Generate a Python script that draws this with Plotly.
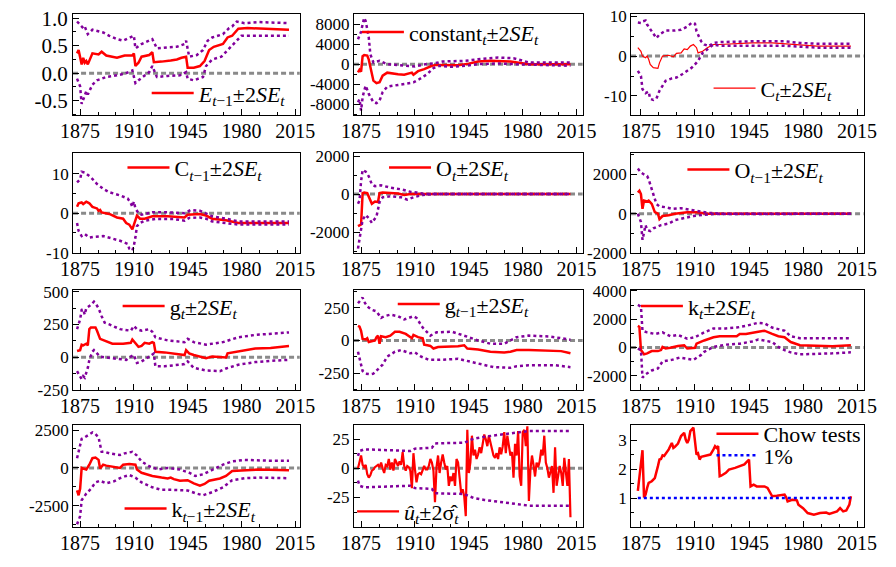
import plotly.graph_objects as go

# ---------------- data ----------------
X_TICKS = [1875, 1910, 1945, 1980, 2015]
X_TICKTEXT = ["1875", "1910", "1945", "1980", "2015"]

# Panel 1: E_{t-1}
E_yr = [1873, 1874, 1876, 1877, 1878, 1879, 1880, 1883, 1887, 1889, 1892, 1897, 1899, 1904, 1909, 1910, 1911, 1913, 1915, 1920,
        1922, 1923, 1924, 1928, 1934, 1938, 1941, 1944, 1945, 1949, 1953, 1956, 1959, 1962, 1968, 1971, 1974, 1977, 1978, 1984,
        1999, 2011]
E_est = [0.36, 0.42, 0.16, 0.28, 0.19, 0.22, 0.16, 0.36, 0.34, 0.39, 0.32, 0.30, 0.28, 0.32, 0.32, 0.36, 0.13, 0.19, 0.30, 0.33,
         0.38, 0.20, 0.20, 0.21, 0.23, 0.25, 0.28, 0.30, 0.10, 0.10, 0.13, 0.22, 0.42, 0.48, 0.53, 0.65, 0.68, 0.79, 0.81, 0.82,
         0.81, 0.79]
E_up_yr = [1873, 1875, 1877, 1878, 1880, 1883, 1887, 1890, 1894, 1899, 1903, 1907, 1910, 1911, 1915, 1922, 1925, 1932, 1938, 1943,
           1944, 1946, 1951, 1955, 1958, 1961, 1968, 1972, 1974, 1977, 1982, 1991, 2011]
E_up = [0.94, 0.88, 0.82, 0.85, 0.71, 0.79, 0.76, 0.74, 0.68, 0.62, 0.59, 0.65, 0.68, 0.45, 0.53, 0.62, 0.45, 0.47, 0.48, 0.53,
        0.59, 0.30, 0.33, 0.42, 0.59, 0.65, 0.71, 0.82, 0.85, 0.94, 0.91, 0.93, 0.91]
E_lo_yr = [1873, 1875, 1876, 1879, 1880, 1883, 1886, 1892, 1899, 1904, 1909, 1911, 1913, 1920, 1922, 1925, 1932, 1940, 1944, 1945,
           1949, 1955, 1957, 1961, 1967, 1972, 1976, 1980, 2011]
E_lo = [-0.10, -0.24, -0.56, -0.33, -0.39, -0.21, -0.13, -0.07, -0.04, -0.01, 0.05, -0.18, -0.13, 0.02, 0.13, -0.07, -0.05, -0.04, 0.02, -0.10,
        -0.13, -0.07, 0.13, 0.25, 0.30, 0.45, 0.56, 0.68, 0.68]

# Panel 2: constant
K_yr = [1873, 1874, 1875, 1876, 1877, 1879, 1880, 1883, 1885, 1887, 1889, 1892, 1899, 1903, 1908, 1909, 1912, 1916, 1921, 1924,
        1938, 1945, 1951, 1959, 1972, 1978, 1984, 2011]
K_est = [-1650, -1100, -1500, 1600, 1800, 1700, 900, -3300, -3800, -3600, -2300, -1700, -2000, -2100, -1700, -2100, -1400, -1000, -330, -150,
         -200, 100, 530, 660, 530, 200, 0, 0]
K_up_yr = [1873, 1875, 1876, 1877, 1878, 1880, 1881, 1883, 1887, 1892, 1899, 1907, 1910, 1917, 1922, 1928, 1943, 1951, 1964, 1974,
           1980, 1984, 2011]
K_up = [4960, 6500, 7930, 9250, 8600, 5300, 1980, 330, 660, 0, -200, -330, -460, 0, 130, 530, 660, 990, 1320, 1190,
        660, 330, 330]
K_lo_yr = [1873, 1874, 1875, 1876, 1877, 1878, 1880, 1883, 1885, 1887, 1889, 1892, 1899, 1903, 1909, 1913, 1918, 1922, 1926, 1934,
           1943, 1951, 1964, 1974, 1984, 2011]
K_lo = [-7600, -7000, -9250, -6600, -5300, -4300, -5950, -7600, -7800, -7270, -5600, -4500, -4160, -3970, -3640, -2975, -1980, -800, -330, -530,
        -330, 0, 130, 0, -130, -330]

# Panel 3: C_t
Ct_yr = [1873, 1875, 1876, 1878, 1879, 1880, 1881, 1883, 1886, 1887, 1889, 1893, 1896, 1898, 1901, 1903, 1905, 1907, 1909, 1911,
         1912, 1915, 1918, 1922, 1926, 1947, 1960, 1976, 1989, 2011]
Ct_est = [2.1, 1.2, 0.0, -0.4, 0.0, -0.8, -2.1, -2.9, -3.1, -1.7, 0.0, 0.2, -0.2, 0.7, 0.8, 1.8, 1.6, 2.5, 2.9, 2.1,
          0.8, 1.2, 2.1, 2.9, 2.9, 3.3, 3.3, 2.9, 2.5, 2.5]
Ct_up_yr = [1873, 1875, 1876, 1878, 1879, 1882, 1885, 1887, 1891, 1897, 1901, 1905, 1908, 1910, 1911, 1914, 1916, 1919, 1922, 1926,
            1947, 1968, 1978, 1989, 2011]
Ct_up = [8.4, 8.3, 8.7, 8.9, 7.9, 6.2, 4.5, 5.4, 6.4, 6.4, 6.6, 7.4, 8.4, 8.1, 6.2, 3.7, 2.9, 2.5, 3.3, 3.5,
         3.7, 3.7, 3.3, 3.1, 3.1]
Ct_lo_yr = [1873, 1875, 1876, 1878, 1880, 1881, 1883, 1885, 1887, 1891, 1895, 1898, 1902, 1905, 1908, 1910, 1912, 1915, 1918, 1922,
            1926, 1947, 1968, 1989, 2011]
Ct_lo = [-3.7, -5.0, -8.3, -9.3, -8.9, -10.7, -11.0, -10.7, -8.7, -6.2, -5.6, -5.4, -4.5, -3.7, -2.9, -2.1, -1.2, 0.8, 1.7, 2.9,
         2.6, 2.6, 2.6, 2.1, 2.1]

# Panel 4: C_{t-1}
Ct1_yr = [1873, 1874, 1876, 1877, 1879, 1881, 1883, 1886, 1887, 1888, 1889, 1892, 1894, 1899, 1903, 1905, 1907, 1909, 1911, 1912,
          1914, 1917, 1922, 1932, 1943, 1945, 1953, 1957, 1961, 1970, 1978, 2011]
Ct1_est = [1.6, 2.5, 2.7, 2.3, 2.9, 2.5, 1.6, 1.2, 0.6, 0.8, 0.2, 0.0, -0.2, -1.1, -1.4, -2.5, -2.9, -4.1, -2.1, -0.6,
           -1.4, -1.4, -0.8, -0.8, -1.1, -0.4, -0.2, -0.6, -1.4, -1.8, -2.5, -2.5]
Ct1_up_yr = [1873, 1875, 1876, 1878, 1882, 1886, 1890, 1894, 1901, 1906, 1908, 1909, 1910, 1911, 1913, 1915, 1922, 1932, 1943, 1947,
             1953, 1957, 1961, 1970, 1978, 2011]
Ct1_up = [7.8, 8.6, 10.5, 10.3, 9.1, 7.4, 6.2, 5.3, 4.5, 3.7, 2.5, 1.6, 2.9, 1.2, 0.0, -0.4, 0.2, 0.2, 0.0, 0.8,
          0.6, 0.0, -0.8, -1.4, -2.1, -2.1]
Ct1_lo_yr = [1873, 1874, 1876, 1878, 1881, 1884, 1890, 1894, 1901, 1906, 1907, 1909, 1910, 1911, 1912, 1914, 1917, 1924, 1936, 1943,
             1946, 1953, 1957, 1961, 1970, 1978, 2011]
Ct1_lo = [-2.5, -4.5, -5.8, -5.3, -6.2, -6.0, -5.8, -6.2, -7.0, -7.8, -9.0, -9.5, -8.2, -6.2, -3.3, -2.5, -1.9, -1.5, -1.5, -1.9,
          -1.2, -1.1, -1.4, -2.1, -2.5, -2.9, -2.9]

# Panel 5: O_t
Ot_yr = [1873, 1874, 1875, 1876, 1877, 1879, 1880, 1882, 1884, 1886, 1887, 1889, 1899, 1903, 1907, 1917, 2011]
Ot_est = [-1690, -1650, -1600, 50, 85, 50, -170, -510, -390, -420, 50, 85, 30, -50, 0, 0, 0]
Ot_up_yr = [1873, 1874, 1875, 1876, 1878, 1880, 1882, 1884, 1888, 1894, 1901, 1907, 1911, 1917, 2011]
Ot_up = [-510, -340, 680, 1270, 1180, 930, 510, 420, 460, 340, 250, 120, 85, 0, 0]
Ot_lo_yr = [1873, 1874, 1876, 1878, 1880, 1882, 1884, 1885, 1887, 1889, 1894, 1901, 1905, 1909, 1915, 1922, 2011]
Ot_lo = [-2870, -2280, -1350, -1100, -1270, -1520, -1300, -1180, -420, -170, -120, -170, -290, -170, -50, 0, 0]

# Panel 6: O_{t-1}
Ot1_yr = [1873, 1874, 1875, 1876, 1877, 1879, 1880, 1882, 1884, 1886, 1887, 1889, 1893, 1897, 1905, 1911, 1918, 2011]
Ot1_est = [1080, 1170, 1000, 250, 670, 620, 670, 500, 80, 0, -280, -120, -80, 0, 80, 80, 0, 0]
Ot1_up_yr = [1873, 1875, 1877, 1879, 1880, 1881, 1883, 1885, 1887, 1891, 1895, 1901, 1907, 1914, 1918, 1926, 2011]
Ot1_up = [2300, 2100, 2000, 1920, 1750, 1500, 1000, 500, 370, 330, 250, 280, 200, 120, 50, 0, 0]
Ot1_lo_yr = [1873, 1875, 1876, 1878, 1879, 1881, 1883, 1886, 1888, 1893, 1897, 1903, 1909, 1916, 1922, 2011]
Ot1_lo = [0, -420, -1330, -580, -830, -880, -750, -670, -580, -500, -330, -220, -120, -50, -20, 0]

# Panel 7: g_t
gt_yr = [1873, 1875, 1876, 1877, 1879, 1880, 1881, 1882, 1885, 1886, 1888, 1891, 1894, 1896, 1903, 1908, 1909, 1911, 1913, 1915,
         1917, 1920, 1922, 1923, 1924, 1930, 1936, 1943, 1944, 1946, 1949, 1957, 1961, 1970, 1971, 1978, 1982, 1989, 1999, 2011]
gt_est = [47, 54, 96, 91, 103, 91, 214, 226, 226, 202, 140, 128, 115, 103, 103, 110, 135, 103, 79, 86,
          110, 103, 115, 110, 42, 37, 30, 17, 54, 30, 17, -7, 5, -2, 30, 42, 54, 66, 71, 86]
gt_up_yr = [1873, 1875, 1876, 1877, 1878, 1879, 1882, 1884, 1885, 1887, 1889, 1891, 1894, 1901, 1908, 1910, 1912, 1915, 1920, 1922,
            1924, 1932, 1943, 1945, 1949, 1957, 1968, 1978, 1989, 1999, 2011]
gt_up = [214, 288, 361, 366, 324, 374, 398, 423, 410, 374, 312, 263, 250, 214, 202, 238, 214, 202, 214, 194,
         152, 128, 115, 140, 115, 96, 115, 152, 170, 177, 189]
gt_lo_yr = [1873, 1875, 1876, 1877, 1878, 1880, 1881, 1883, 1884, 1886, 1888, 1892, 1899, 1905, 1908, 1910, 1912, 1915, 1920, 1923,
            1924, 1930, 1943, 1945, 1949, 1957, 1966, 1970, 1978, 1989, 1999, 2011]
gt_lo = [-106, -143, -167, -143, -155, -81, -20, 42, 54, 29, 5, -2, -12, -20, 5, 17, -44, -32, 5, 29,
         -69, -69, -52, -32, -81, -101, -106, -86, -57, -37, -27, -20]

# Panel 8: g_{t-1}
gt1_yr = [1873, 1874, 1875, 1876, 1878, 1879, 1880, 1882, 1884, 1885, 1886, 1887, 1888, 1891, 1894, 1897, 1900, 1904, 1908, 1909,
          1912, 1915, 1916, 1918, 1920, 1922, 1925, 1938, 1942, 1944, 1951, 1959, 1968, 1972, 1976, 1984, 1997, 2005, 2011]
gt1_est = [111, 105, 74, 12, 7, 17, -12, -7, 0, 25, 37, -25, 32, 25, 37, 67, 67, 50, 17, 42,
           25, 17, -32, -37, -42, -62, -50, -45, -37, -62, -69, -87, -92, -87, -74, -74, -77, -82, -99]
gt1_up_yr = [1873, 1874, 1876, 1877, 1879, 1882, 1885, 1888, 1890, 1894, 1899, 1903, 1909, 1911, 1915, 1920, 1924, 1934, 1943, 1945,
             1951, 1959, 1968, 1976, 1984, 1997, 2005, 2011]
gt1_up = [285, 297, 329, 297, 260, 235, 223, 173, 186, 198, 186, 161, 186, 173, 99, 37, 62, 67, 37, 25,
          0, -25, -25, 25, 37, 30, 17, 5]
gt1_lo_yr = [1873, 1874, 1876, 1878, 1881, 1883, 1886, 1889, 1892, 1897, 1901, 1907, 1910, 1914, 1919, 1926, 1938, 1945, 1953, 1961,
             1972, 1976, 1984, 2001, 2011]
gt1_lo = [-87, -136, -235, -255, -260, -255, -223, -186, -124, -87, -74, -99, -92, -124, -149, -149, -141, -161, -181, -205,
          -210, -198, -190, -190, -205]

# Panel 9: k_t
kt_yr = [1873, 1874, 1875, 1877, 1879, 1882, 1886, 1888, 1889, 1891, 1894, 1899, 1903, 1905, 1910, 1911, 1916, 1922, 1926, 1937,
         1939, 1943, 1951, 1955, 1960, 1964, 1968, 1972, 1978, 1989, 1999, 2011]
kt_est = [1530, 1460, -180, -480, -410, -250, -250, -180, 46, -70, -20, 114, 160, -70, -20, 274, 500, 730, 800, 800,
          960, 960, 1120, 1190, 960, 800, 730, 390, 160, 114, 91, 160]
kt_up_yr = [1873, 1875, 1876, 1879, 1884, 1889, 1894, 1899, 1905, 1910, 1916, 1922, 1930, 1937, 1943, 1951, 1955, 1960, 1968, 1972,
            1978, 2011]
kt_up = [3010, 2900, 1190, 1070, 960, 1070, 800, 890, 620, 730, 1070, 1350, 1350, 1410, 1530, 1750, 1710, 1410, 1190, 800,
         660, 660]
kt_lo_yr = [1873, 1875, 1876, 1878, 1882, 1886, 1889, 1895, 1900, 1905, 1909, 1914, 1916, 1922, 1930, 1939, 1947, 1951, 1955, 1960,
            1964, 1968, 1972, 1978, 1999, 2011]
kt_lo = [-70, -180, -2120, -1890, -1620, -1480, -980, -870, -710, -800, -870, -520, -300, 46, 205, 274, 430, 570, 500, 390,
         46, -180, -340, -480, -410, -340]

# Panel 10: k_{t-1}
kt1_yr = [1873, 1874, 1875, 1876, 1877, 1879, 1881, 1883, 1885, 1887, 1888, 1890, 1892, 1897, 1901, 1903, 1907, 1911, 1912, 1915,
          1922, 1928, 1932, 1934, 1936, 1940, 1945, 1949, 1953, 1956, 1959, 1966, 1970, 1974, 1982, 1991, 2011]
kt1_est = [-1490, -1810, -1380, 0, -43, -106, 213, 640, 680, 530, -43, 213, 150, 43, 0, 213, 255, 213, -106, -320,
           -530, -640, -700, -640, -745, -850, -810, -1020, -1170, -1060, -850, -700, -530, -210, -170, -106, -150]
kt1_up_yr = [1873, 1875, 1876, 1878, 1881, 1883, 1885, 1887, 1889, 1891, 1894, 1901, 1904, 1909, 1912, 1915, 1920, 1926, 1932, 1940,
             1946, 1950, 1955, 1961, 1968, 1974, 1982, 1999, 2011]
kt1_up = [640, 1490, 1920, 2020, 2230, 2340, 2230, 2020, 1060, 1060, 960, 850, 960, 1060, 810, 425, 106, -106, 0, -106,
          -320, -530, -425, -106, 213, 425, 530, 470, 470]
kt1_lo_yr = [1873, 1875, 1876, 1879, 1882, 1885, 1888, 1890, 1892, 1897, 1901, 1905, 1907, 1911, 1915, 1922, 1928, 1936, 1945, 1951,
             1955, 1961, 1968, 1974, 1982, 1991, 2011]
kt1_lo = [-3720, -3190, -2130, -1700, -1380, -960, -850, -960, -1020, -890, -680, -530, -470, -640, -960, -1280, -1450, -1450, -1490, -1700,
          -1810, -1600, -1280, -810, -680, -640, -680]

# Panel 11: residuals u_t and +-2 sigma
res_yr = list(range(1873, 2012))
res = [0, 6, 11, 3, 1, 3, -5, -8, -6, -2,          # 1873-1882
       -1, 1, 2, 3, 1, 5, 0, -4, 3, 2,             # 1883-1892
       8, -1, 5, -2, 8, 5, 2, 6, 3, 14,            # 1893-1902
       2, -2, 2, 1, -2, -17, 13, -1, -12, -5,      # 1903-1912
       -4, -5, -2, 2, -1, -1, 2, 8, 5, -2,         # 1913-1922
       -29, 1, 11, -4, 5, 12, 5, -1, 2, -15,       # 1923-1932
       -7, -11, -4, -15, 8, 5, -8, -21, -18, -24,  # 1933-1942
       -41, 33, -4, 5, 28, 11, 16, 8, 12, 18,      # 1943-1952
       13, 23, 29, 25, 19, 28, 22, 16, 11, 9,      # 1953-1962
       13, 8, 18, 12, 19, 31, 13, 28, 19, 11,      # 1963-1972
       14, -8, 21, 11, 32, -7, -15, 31, 33, 19,    # 1973-1982
       36, -28, -1, 11, 3, -7, 5, 1, 6, 16,        # 1983-1992
       11, 28, 5, 0, -8, -4, 2, -21, 18, -15,      # 1993-2002
       -7, 2, -4, -15, 9, -4, -15, 8, -42]         # 2003-2011
sig_yr = [1873, 1874, 1877, 1892, 1907, 1910, 1921, 1923, 1942, 1946, 1948, 1955, 1967, 1984, 2011]
sig_up = [10.6, 14.9, 16.3, 15.4, 14.9, 16.9, 17.7, 21.4, 22.0, 24.3, 25.4, 27.1, 29.1, 32.0, 32.0]
sig_lo = [-10.6, -14.9, -16.3, -15.4, -14.9, -16.9, -17.7, -21.4, -22.0, -24.3, -25.4, -27.1, -29.1, -32.0, -32.0]

# Panel 12: Chow tests and 1% critical value
chow_yr = [1873, 1874, 1875, 1876, 1877, 1878, 1879, 1880, 1882, 1884, 1886, 1887, 1888, 1889, 1890, 1893, 1895, 1896, 1897, 1899,
           1901, 1903, 1904, 1905, 1906, 1907, 1909, 1910, 1911, 1912, 1913, 1914, 1917, 1920, 1922, 1923, 1924, 1925, 1926, 1927,
           1930, 1932, 1936, 1939, 1942, 1944, 1945, 1946, 1948, 1950, 1955, 1957, 1960, 1963, 1968, 1969, 1970, 1973, 1976, 1977,
           1980, 1983, 1987, 1991, 1995, 1997, 2002, 2004, 2006, 2008, 2010, 2011]
chow = [1.25, 1.7, 2.3, 2.65, 1.02, 1.12, 1.35, 1.52, 1.58, 1.69, 2.1, 2.33, 2.35, 2.47, 2.45, 2.68, 2.9, 2.73, 2.77, 2.88,
        3.14, 3.25, 3.02, 2.9, 3.02, 3.31, 3.43, 2.97, 2.5, 2.54, 2.33, 2.42, 2.45, 2.5, 2.68, 2.79, 2.73, 2.79, 1.75, 1.77,
        1.87, 1.98, 2.04, 2.1, 2.16, 2.27, 2.33, 1.4, 1.46, 1.4, 1.4, 1.35, 1.06, 1.08, 1.12, 1.03, 0.88, 0.94, 0.92, 0.77,
        0.65, 0.48, 0.42, 0.48, 0.5, 0.45, 0.54, 0.65, 0.54, 0.57, 0.77, 1.06]
crit_yr = [1873, 2011]
crit = [1.0, 1.0]

# ---------------- styling / layout ----------------
FONT = "Liberation Serif"
RED = "#ff0000"
PURPLE = "#82009c"
BLUE = "#0000ff"
GRAY = "#8a8a8a"
W, H = 896, 567
COLS = [(62, 296), (352, 588), (638, 878)]
ROWS = [(6, 111), (150, 253), (291, 395), (431, 536)]
XRANGES = [(1870.4, 2018.0), (1870.4, 2018.9), (1868.6, 2019.2)]


def px(x):
    return x / W


def py(y):
    return min(1.0, max(0.0, 1 - y / H))


SE = "±2<i>SE</i><sub><i>t</i></sub>"
panels = [
    dict(est=(E_yr, E_est), bands=[(E_up_yr, E_up), (E_lo_yr, E_lo)], yrange=(-0.77, 1.08),
         ticks=[-0.5, 0.0, 0.5, 1.0], dec=1, minor=0.25, tfs=21,
         label="<i>E</i><sub><i>t</i>−1</sub>" + SE, leg=(138, 88), lw=2.5),
    dict(est=(K_yr, K_est), bands=[(K_up_yr, K_up), (K_lo_yr, K_lo)], yrange=(-10250, 10050),
         ticks=[-8000, -4000, 0, 4000, 8000], dec=0, minor=2000, tfs=17,
         label="constant<sub><i>t</i></sub>" + SE, leg=(355, 25), lw=2.5),
    dict(est=(Ct_yr, Ct_est), bands=[(Ct_up_yr, Ct_up), (Ct_lo_yr, Ct_lo)], yrange=(-14.9, 10.6),
         ticks=[-10, 0, 10], dec=0, minor=5, tfs=17,
         label="C<sub><i>t</i></sub>" + SE, leg=(718, 83), lw=1.2),
    dict(est=(Ct1_yr, Ct1_est), bands=[(Ct1_up_yr, Ct1_up), (Ct1_lo_yr, Ct1_lo)], yrange=(-10.1, 15.2),
         ticks=[-10, 0, 10], dec=0, minor=5, tfs=17,
         label="C<sub><i>t</i>−1</sub>" + SE, leg=(113, 165), lw=2.5),
    dict(est=(Ot_yr, Ot_est), bands=[(Ot_up_yr, Ot_up), (Ot_lo_yr, Ot_lo)], yrange=(-3100, 2150),
         ticks=[-2000, 0, 2000], dec=0, minor=1000, tfs=17,
         label="O<sub><i>t</i></sub>" + SE, leg=(383, 165), lw=2.5),
    dict(est=(Ot1_yr, Ot1_est), bands=[(Ot1_up_yr, Ot1_up), (Ot1_lo_yr, Ot1_lo)], yrange=(-2000, 3080),
         ticks=[-2000, 0, 2000], dec=0, minor=1000, tfs=17,
         label="O<sub><i>t</i>−1</sub>" + SE, leg=(691, 167), lw=2.5),
    dict(est=(gt_yr, gt_est), bands=[(gt_up_yr, gt_up), (gt_lo_yr, gt_lo)], yrange=(-253, 514),
         ticks=[-250, 0, 250, 500], dec=0, minor=125, tfs=17,
         label="g<sub><i>t</i></sub>" + SE, leg=(108, 308), lw=2.5),
    dict(est=(gt1_yr, gt1_est), bands=[(gt1_up_yr, gt1_up), (gt1_lo_yr, gt1_lo)], yrange=(-384, 389),
         ticks=[-250, 0, 250], dec=0, minor=125, tfs=17,
         label="g<sub><i>t</i>−1</sub>" + SE, leg=(392, 306), lw=2.5),
    dict(est=(kt_yr, kt_est), bands=[(kt_up_yr, kt_up), (kt_lo_yr, kt_lo)], yrange=(-3030, 4080),
         ticks=[-2000, 0, 2000, 4000], dec=0, minor=1000, tfs=17,
         label="k<sub><i>t</i></sub>" + SE, leg=(643, 308), lw=2.5),
    dict(est=(kt1_yr, kt1_est), bands=[(kt1_up_yr, kt1_up), (kt1_lo_yr, kt1_lo)], yrange=(-3900, 2810),
         ticks=[-2500, 0, 2500], dec=0, minor=1250, tfs=17,
         label="k<sub><i>t</i>−1</sub>" + SE, leg=(110, 517), lw=2.5),
    dict(est=(res_yr, res), bands=[(sig_yr, sig_up), (sig_yr, sig_lo)], yrange=(-50.3, 36.9),
         ticks=[-25, 0, 25], dec=0, minor=12.5, tfs=17,
         label="<i>û</i><sub><i>t</i></sub>±2σ̂<sub><i>t</i></sub>", leg=(350, 520), lw=2.2),
    dict(est=(chow_yr, chow), bands=[], yrange=(0.0, 3.51),
         ticks=[1, 2, 3], dec=0, minor=0.5, tfs=17,
         label="Chow tests", leg=(721, 440), lw=2.5, nozero=True),
]


def fmt(v, dec):
    return f"{v:.{dec}f}"


fig = go.Figure()
layout = dict(width=W, height=H, margin=dict(l=0, r=0, t=0, b=0),
              paper_bgcolor="white", plot_bgcolor="white",
              font=dict(family=FONT, color="black", size=17), showlegend=True,
              hovermode=False)
shapes = []
LEG_COMMON = dict(xanchor="left", yanchor="middle", bgcolor="rgba(0,0,0,0)", borderwidth=0,
                  font=dict(family=FONT, size=22, color="black"), itemwidth=42)

for i, p in enumerate(panels):
    r, c = divmod(i, 3)
    n = "" if i == 0 else str(i + 1)
    xa, ya = "x" + n, "y" + n
    xl, xr = COLS[c]
    yt, yb = ROWS[r]
    layout["xaxis" + n] = dict(
        domain=[px(xl), px(xr)], anchor=ya, range=list(XRANGES[c]),
        tickmode="array", tickvals=X_TICKS, ticktext=X_TICKTEXT,
        ticks="inside", ticklen=6, tickwidth=1, tickcolor="black",
        showline=True, linecolor="black", linewidth=1, mirror=True,
        showgrid=False, zeroline=False, tickfont=dict(size=20, family=FONT, color="black"),
        ticklabelstandoff=-2,
        minor=dict(tickmode="linear", tick0=1875, dtick=35 / 3, ticks="inside",
                   ticklen=3, tickcolor="black", showgrid=False))
    layout["yaxis" + n] = dict(
        domain=[py(yb), py(yt)], anchor=xa, range=list(p["yrange"]),
        tickmode="array", tickvals=p["ticks"], ticktext=[fmt(v, p["dec"]) for v in p["ticks"]],
        ticks="inside", ticklen=6, tickwidth=1, tickcolor="black",
        showline=True, linecolor="black", linewidth=1, mirror=True,
        showgrid=False, zeroline=False, tickfont=dict(size=p["tfs"], family=FONT, color="black"),
        minor=dict(tickmode="linear", tick0=0, dtick=p["minor"], ticks="inside",
                   ticklen=3, tickcolor="black", showgrid=False))

    legkey = "legend" if i == 0 else "legend" + str(i + 1)
    lx, ly = p["leg"]
    layout[legkey] = dict(x=px(lx), y=py(ly), **LEG_COMMON)

    if not p.get("nozero"):
        shapes.append(dict(type="line", xref=xa + " domain", yref=ya, x0=0, x1=1, y0=0, y1=0,
                           line=dict(color=GRAY, width=3, dash="5px,3px"), layer="below"))

    ex, ey = p["est"]
    fig.add_trace(go.Scatter(x=ex, y=ey, xaxis=xa, yaxis=ya, mode="lines",
                             line=dict(color=RED, width=p["lw"]), name=p["label"],
                             legend=legkey, showlegend=True, hoverinfo="skip"))
    for bx, by in p["bands"]:
        fig.add_trace(go.Scatter(x=bx, y=by, xaxis=xa, yaxis=ya, mode="lines",
                                 line=dict(color=PURPLE, width=2.5, dash="dot"),
                                 showlegend=False, hoverinfo="skip"))

# 1% critical value line in the Chow panel
layout["legend13"] = dict(x=px(721), y=py(462), **LEG_COMMON)
fig.add_trace(go.Scatter(x=crit_yr, y=crit, xaxis="x12", yaxis="y12", mode="lines",
                         line=dict(color=BLUE, width=2.5, dash="dot"), name="1%",
                         legend="legend13", showlegend=True, hoverinfo="skip"))

layout["shapes"] = shapes
fig.update_layout(**layout)
# remove the default page margin so the 896x567 figure fills the window exactly
fig.write_html("out.html",
               config={"displayModeBar": False, "staticPlot": True},
               post_script="document.body.style.margin='0';document.body.style.overflow='hidden';")
